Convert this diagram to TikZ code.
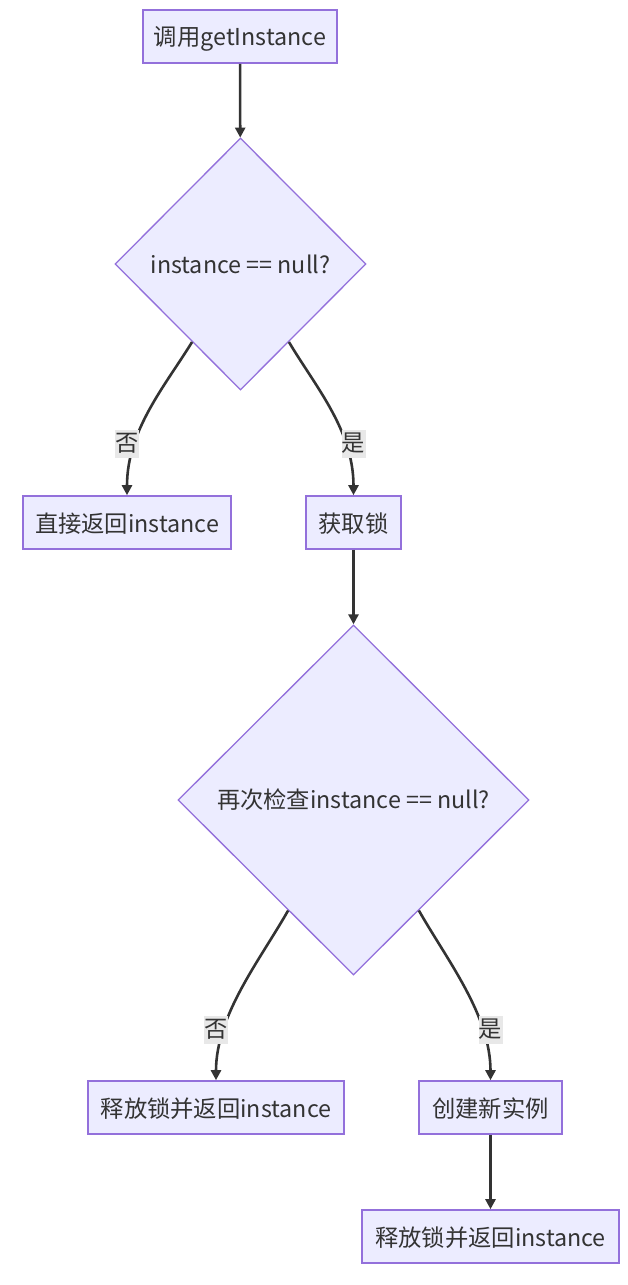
\documentclass[tikz,border=0pt]{standalone}
\usepackage{fontspec}
\setmainfont{Noto Sans CJK SC}
\usetikzlibrary{shapes.geometric,arrows.meta,calc}
\definecolor{nodefill}{HTML}{ECECFF}
\definecolor{nodeline}{HTML}{9370DB}
\definecolor{txt}{HTML}{333333}
\definecolor{edgec}{HTML}{333333}
\definecolor{lblbg}{RGB}{232,232,232}
\begin{document}
\begin{tikzpicture}[x=1pt,y=-1pt,
  tf/.style={font=\fontsize{23.3}{27}\selectfont},
  box/.style={draw=nodeline,fill=nodefill,line width=1.6pt,inner sep=0pt,text=txt,tf,text depth=0.5pt},
  dia/.style={diamond,draw=nodeline,fill=nodefill,line width=1.3pt,inner sep=0pt,text=txt,tf},
  edge/.style={draw=edgec,line width=2.6pt,-{Triangle[length=10pt,width=10pt]}},
  lbl/.style={fill=lblbg,inner sep=0pt,minimum width=24pt,minimum height=28pt,text=txt,tf}]
\useasboundingbox (0,0) rectangle (628,1285);
\node[box,minimum width=194pt,minimum height=53pt] (n1) at (240,36.5) {调用getInstance};
\node[dia,minimum width=251pt,minimum height=252pt] (d1) at (240.5,264) {instance == null?};
\node[box,minimum width=208pt,minimum height=53pt] (n2) at (127,522.5) {直接返回instance};
\node[box,minimum width=95pt,minimum height=53pt] (n3) at (353.5,522.5) {获取锁};
\node[dia,minimum width=351pt,minimum height=350pt] (d2) at (353.5,800) {再次检查instance == null?};
\node[box,minimum width=256pt,minimum height=53pt] (n4) at (216,1107.5) {释放锁并返回instance};
\node[box,minimum width=143pt,minimum height=53pt] (n5) at (490.5,1107.5) {创建新实例};
\node[box,minimum width=257pt,minimum height=53pt] (n6) at (490.5,1236.5) {释放锁并返回instance};

\coordinate (d1l) at ($(d1.west)!0.616!(d1.south)$);
\coordinate (d1r) at ($(d1.south)!0.384!(d1.east)$);
\coordinate (d2l) at ($(d2.west)!0.629!(d2.south)$);
\coordinate (d2r) at ($(d2.south)!0.371!(d2.east)$);

\draw[edge] (n1) -- (d1);
\draw[edge] (d1l) .. controls (165,386) and (127,430) .. (n2.north);
\draw[edge] (d1r) .. controls (315,386) and (353.5,430) .. (n3.north);
\draw[edge] (n3) -- (d2);
\draw[edge] (d2l) .. controls (260,960) and (216,1015) .. (n4.north);
\draw[edge] (d2r) .. controls (447,960) and (490.5,1015) .. (n5.north);
\draw[edge] (n5) -- (n6);

\node[lbl] (l1) at (127,443.5) {否};
\node[lbl] (l2) at (353.5,443.5) {是};
\node[lbl] (l3) at (216,1029.5) {否};
\node[lbl] (l4) at (490.5,1029.5) {是};
\end{tikzpicture}
\end{document}
